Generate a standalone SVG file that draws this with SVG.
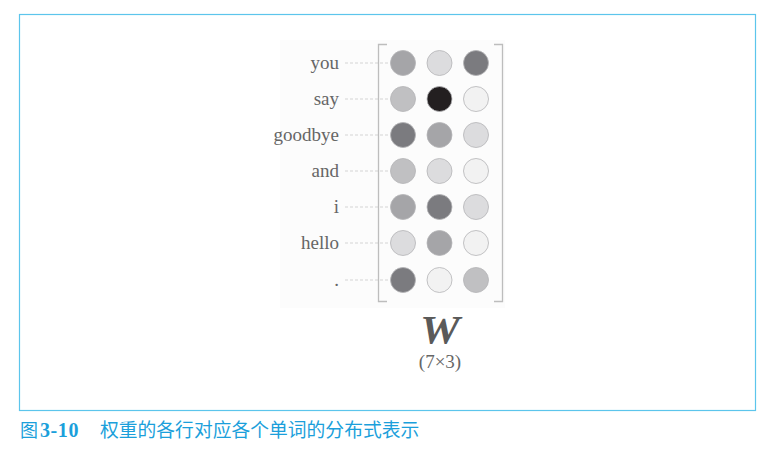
<svg xmlns="http://www.w3.org/2000/svg" width="765" height="466" viewBox="0 0 765 466">
<style>
.lbl{font-family:"Liberation Serif","Times New Roman",serif;font-size:19px;fill:#666;text-anchor:end}
.c{stroke:#b4b4b6;stroke-width:0.8}
.d{fill:#7b7b7f}.m{fill:#a5a5a8}.lm{fill:#c0c0c2}.l{fill:#dcdcde}.v{fill:#f2f2f2}.b{fill:#231f20}
.dash{stroke:#d4d4d4;stroke-width:1;stroke-dasharray:3 2;fill:none}
.br{stroke:#bdbdbd;stroke-width:1.3;fill:none}
</style>
<rect width="765" height="466" fill="#fff"/>
<rect x="19.5" y="14.5" width="736" height="396" fill="#fff" stroke="#5cc5ec" stroke-width="1.2"/>
<rect x="280" y="40" width="225" height="268" fill="#fcfcfc"/>
<g id="connectors">
<line class="dash" x1="345" y1="63" x2="390" y2="63"/>
<line class="dash" x1="345" y1="99" x2="390" y2="99"/>
<line class="dash" x1="345" y1="135" x2="390" y2="135"/>
<line class="dash" x1="345" y1="171" x2="390" y2="171"/>
<line class="dash" x1="345" y1="207" x2="390" y2="207"/>
<line class="dash" x1="345" y1="243" x2="390" y2="243"/>
<line class="dash" x1="345" y1="280" x2="390" y2="280"/>
</g>
<g id="labels">
<text class="lbl" x="339" y="69">you</text>
<text class="lbl" x="339" y="105">say</text>
<text class="lbl" x="339" y="141">goodbye</text>
<text class="lbl" x="339" y="177">and</text>
<text class="lbl" x="339" y="213">i</text>
<text class="lbl" x="339" y="249">hello</text>
<text class="lbl" x="339" y="286">.</text>
</g>
<g id="matrix">
<path class="br" d="M387,44.5 H378.5 V301.5 H387"/>
<path class="br" d="M494,44.5 H502.5 V301.5 H494"/>
<g id="row-you"><circle class="c m" cx="403" cy="63" r="12.5"/><circle class="c l" cx="439.5" cy="63" r="12.5"/><circle class="c d" cx="476" cy="63" r="12.5"/></g>
<g id="row-say"><circle class="c lm" cx="403" cy="99" r="12.5"/><circle class="c b" cx="439.5" cy="99" r="12.5"/><circle class="c v" cx="476" cy="99" r="12.5"/></g>
<g id="row-goodbye"><circle class="c d" cx="403" cy="135" r="12.5"/><circle class="c m" cx="439.5" cy="135" r="12.5"/><circle class="c l" cx="476" cy="135" r="12.5"/></g>
<g id="row-and"><circle class="c lm" cx="403" cy="171" r="12.5"/><circle class="c l" cx="439.5" cy="171" r="12.5"/><circle class="c v" cx="476" cy="171" r="12.5"/></g>
<g id="row-i"><circle class="c m" cx="403" cy="207" r="12.5"/><circle class="c d" cx="439.5" cy="207" r="12.5"/><circle class="c l" cx="476" cy="207" r="12.5"/></g>
<g id="row-hello"><circle class="c l" cx="403" cy="243" r="12.5"/><circle class="c m" cx="439.5" cy="243" r="12.5"/><circle class="c v" cx="476" cy="243" r="12.5"/></g>
<g id="row-dot"><circle class="c d" cx="403" cy="280" r="12.5"/><circle class="c v" cx="439.5" cy="280" r="12.5"/><circle class="c lm" cx="476" cy="280" r="12.5"/></g>
</g>
<g id="W">
<text x="440" y="343" text-anchor="middle" font-family="Liberation Serif, serif" font-size="40" font-weight="bold" font-style="italic" fill="#5a5a5a" transform="translate(440 0) scale(1.12 1) translate(-440 0)">W</text>
<text x="440" y="368" text-anchor="middle" font-family="Liberation Serif, serif" font-size="19" fill="#666">(7×3)</text>
</g>
<g id="caption" fill="#1b9fdb">
<text x="20" y="437" font-family="Noto Sans CJK SC, sans-serif" font-size="18">图</text>
<text x="40" y="437" font-family="Liberation Serif, serif" font-size="20" font-weight="bold" letter-spacing="0.6">3-10</text>
<text x="100" y="437" font-family="Noto Sans CJK SC, sans-serif" font-size="18.8">权重的各行对应各个单词的分布式表示</text>
</g>
</svg>
